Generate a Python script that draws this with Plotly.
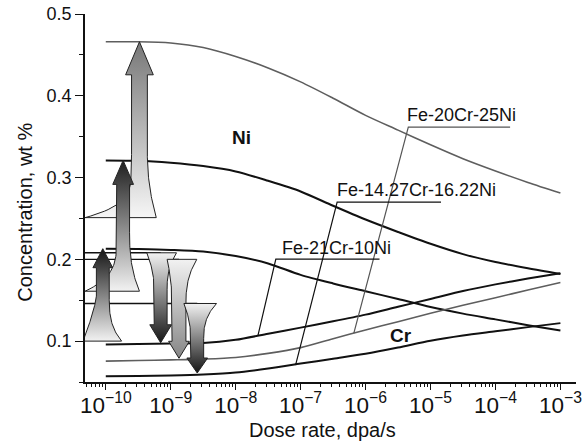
import numpy as np
import plotly.graph_objects as go

# ---------------- data ----------------
dose_rate = [1e-10, 3.16e-10, 1e-9, 3.16e-9, 1e-8, 3.16e-8, 1e-7, 3.16e-7,
             1e-6, 3.16e-6, 1e-5, 3.16e-5, 1e-4, 3.16e-4, 1e-3]

ni_fe20cr25ni = [0.466, 0.466, 0.4645, 0.459, 0.448, 0.434, 0.417, 0.397,
                 0.376, 0.358, 0.340, 0.323, 0.308, 0.294, 0.281]
ni_fe14cr16ni = [0.321, 0.3205, 0.318, 0.314, 0.3075, 0.296, 0.283, 0.2655,
                 0.2487, 0.2335, 0.219, 0.2064, 0.1967, 0.189, 0.182]
ni_fe21cr10ni = [0.213, 0.2125, 0.2115, 0.2095, 0.204, 0.195, 0.181, 0.1705,
                 0.161, 0.1515, 0.1417, 0.1336, 0.1266, 0.1195, 0.113]
cr_fe21cr10ni = [0.096, 0.0965, 0.097, 0.0976, 0.1016, 0.109, 0.1165, 0.1242,
                 0.1324, 0.142, 0.1515, 0.1613, 0.1694, 0.1765, 0.183]
cr_fe20cr25ni = [0.0755, 0.0762, 0.077, 0.078, 0.080, 0.085, 0.092, 0.103,
                 0.1135, 0.1238, 0.134, 0.1438, 0.1531, 0.1624, 0.1716]
cr_fe14cr16ni = [0.057, 0.0573, 0.058, 0.0592, 0.0615, 0.0665, 0.0725, 0.0785,
                 0.0845, 0.0921, 0.1005, 0.1069, 0.112, 0.1171, 0.122]

# segregation arrows (Ni enrichment up, Cr depletion down)
ni_arrow_dose = [9.0e-11, 1.85e-10, 3.3e-10]
ni_initial = [0.100, 0.161, 0.251]
ni_peak = [0.213, 0.321, 0.466]
cr_arrow_dose = [7.0e-10, 1.34e-9, 2.56e-9]
cr_initial = [0.208, 0.200, 0.146]
cr_final = [0.098, 0.079, 0.061]

# alloy labels and their leader lines
label_text = ["Fe-20Cr-25Ni", "Fe-14.27Cr-16.22Ni", "Fe-21Cr-10Ni"]
leader_dose = [[6.6e-7, 4.55e-6, 1.68e-4],
               [8.36e-8, 3.65e-7, 1.45e-5],
               [2.21e-8, 4.15e-8, 1.64e-6]]
leader_conc = [[0.1098, 0.3616, 0.3616],
               [0.0707, 0.2699, 0.2699],
               [0.1073, 0.2002, 0.2002]]

x_title = "Dose rate, dpa/s"
y_title = "Concentration, wt %"

# ---------------- styles / positions ----------------
X_RANGE_LOG = [-10.32, -2.76]
Y_RANGE = [0.05, 0.5]
PX_PER_DEC = 65.7
PX_PER_Y = 818.0
FONT = "Liberation Sans, Arial, sans-serif"

label_pos = [(4.0e-6, 0.3763), (3.35e-7, 0.2846), (4.85e-8, 0.2137)]
label_color = ["#111111", "#111111", "#111111"]
leader_color = ["#555555", "#111111", "#111111"]

up_style = [
    dict(shaft=6.5, head=10, head_len=19, bell_h=45, left=20, right=19,
         p_left=1.3, p_right=3, colors=("#f2f2f2", "#141414")),
    dict(shaft=6.5, head=10.5, head_len=24, bell_h=59, left=38.5, right=16.5,
         p_left=4, p_right=2.5, colors=("#f2f2f2", "#1e1e1e")),
    dict(shaft=8, head=14, head_len=33, bell_h=63, left=55, right=17,
         p_left=5, p_right=2, colors=("#f6f6f6", "#777777")),
]
down_style = [
    dict(shaft=6.5, head=11, head_len=18, bell_h=37, left=14, right=16,
         p_left=2, p_right=2.5, colors=("#f2f2f2", "#161616")),
    dict(shaft=7, head=10.5, head_len=17, bell_h=45, left=12, right=18,
         p_left=2, p_right=2.5, colors=("#f2f2f2", "#858585")),
    dict(shaft=6.5, head=10.5, head_len=15, bell_h=35, left=13.5, right=19.5,
         p_left=2, p_right=2.5, colors=("#f2f2f2", "#141414")),
]


def arrow_polygon(x_center, y_from, y_to, st):
    lc = np.log10(x_center)
    sgn = 1.0 if y_to > y_from else -1.0
    L = abs(y_to - y_from) * PX_PER_Y
    s_bell = np.linspace(0, st["bell_h"], 40)
    t = s_bell / st["bell_h"]
    rw = st["shaft"] + (st["right"] - st["shaft"]) * (1 - t) ** st["p_right"]
    lw = st["shaft"] + (st["left"] - st["shaft"]) * (1 - t) ** st["p_left"]
    pts = [(w, s) for s, w in zip(s_bell, rw)]
    hb = L - st["head_len"]
    pts += [(st["shaft"], hb), (st["head"], hb), (0, L),
            (-st["head"], hb), (-st["shaft"], hb)]
    pts += [(-w, s) for s, w in zip(s_bell[::-1], lw[::-1])]
    pts.append(pts[0])
    xs = [10 ** (lc + dx / PX_PER_DEC) for dx, _ in pts]
    ys = [y_from + sgn * s / PX_PER_Y for _, s in pts]
    return xs, ys


fig = go.Figure()

# concentration curves
curves = [
    (ni_fe20cr25ni, "#5e5e5e", 1.6),
    (ni_fe14cr16ni, "#111111", 2.0),
    (ni_fe21cr10ni, "#111111", 2.0),
    (cr_fe21cr10ni, "#111111", 2.0),
    (cr_fe20cr25ni, "#5e5e5e", 1.6),
    (cr_fe14cr16ni, "#111111", 2.0),
]
for vals, col, w in curves:
    fig.add_trace(go.Scatter(x=dose_rate, y=vals, mode="lines",
                             line=dict(color=col, width=w, shape="spline", smoothing=0.8),
                             hoverinfo="skip"))

# initial Cr level lines from the axis to the arrows
for xd, yc in zip(cr_arrow_dose, cr_initial):
    fig.add_trace(go.Scatter(x=[10 ** X_RANGE_LOG[0], xd], y=[yc, yc], mode="lines",
                             line=dict(color="#111111", width=1.4), hoverinfo="skip"))

# leader lines
for xs, ys, col in zip(leader_dose, leader_conc, leader_color):
    fig.add_trace(go.Scatter(x=xs, y=ys, mode="lines",
                             line=dict(color=col, width=1.2), hoverinfo="skip"))

# arrows: up (drawn C, B, A), down (D, E, F)
for i in [2, 1, 0]:
    st = up_style[i]
    xs, ys = arrow_polygon(ni_arrow_dose[i], ni_initial[i], ni_peak[i], st)
    fig.add_trace(go.Scatter(x=xs, y=ys, mode="lines", fill="toself",
                             line=dict(color="#222222", width=1),
                             fillgradient=dict(type="vertical",
                                               colorscale=[[0, st["colors"][0]], [1, st["colors"][1]]]),
                             hoverinfo="skip"))
for i in [0, 1, 2]:
    st = down_style[i]
    xs, ys = arrow_polygon(cr_arrow_dose[i], cr_initial[i], cr_final[i], st)
    fig.add_trace(go.Scatter(x=xs, y=ys, mode="lines", fill="toself",
                             line=dict(color="#222222", width=1),
                             fillgradient=dict(type="vertical",
                                               colorscale=[[0, st["colors"][1]], [1, st["colors"][0]]]),
                             hoverinfo="skip"))

annotations = []
for txt, (xd, yc), col in zip(label_text, label_pos, label_color):
    annotations.append(dict(x=np.log10(xd), y=yc, xref="x", yref="y", text=txt,
                            showarrow=False, xanchor="left", yanchor="middle",
                            font=dict(family=FONT, size=18, color=col)))
annotations.append(dict(x=np.log10(1.25e-8), y=0.3494, xref="x", yref="y", text="<b>Ni</b>",
                        showarrow=False, font=dict(family=FONT, size=19, color="#111")))
annotations.append(dict(x=np.log10(3.45e-6), y=0.1073, xref="x", yref="y", text="<b>Cr</b>",
                        showarrow=False, font=dict(family=FONT, size=19, color="#111")))
annotations.append(dict(x=0.483, y=-0.13, xref="paper", yref="paper", text=x_title,
                        showarrow=False, xanchor="center", yanchor="middle",
                        font=dict(family=FONT, size=20, color="#111")))
annotations.append(dict(x=-0.1227, y=0.462, xref="paper", yref="paper", text=y_title,
                        showarrow=False, textangle=-90, xanchor="center", yanchor="middle",
                        font=dict(family=FONT, size=20, color="#111")))

fig.update_layout(
    width=586, height=442,
    margin=dict(l=85, r=4, t=14, b=60),
    paper_bgcolor="white", plot_bgcolor="white",
    showlegend=False,
    font=dict(family=FONT, size=18, color="#111"),
    annotations=annotations,
)
fig.update_xaxes(type="log", range=X_RANGE_LOG, dtick=1, exponentformat="power",
                 showexponent="all", ticks="outside", ticklen=6, tickwidth=1.2,
                 tickcolor="#111", showline=True, linecolor="#111", linewidth=1.5,
                 showgrid=False, zeroline=False, ticklabeloverflow="allow",
                 ticklabelstandoff=-3,
                 tickfont=dict(family=FONT, size=18, color="#111"),
                 minor=dict(ticks="outside", ticklen=3, tickcolor="#111", tickwidth=1, showgrid=False))
fig.update_yaxes(range=Y_RANGE, tick0=0.1, dtick=0.1, ticks="outside", ticklen=8,
                 tickwidth=1.2, tickcolor="#111", showline=True, linecolor="#111",
                 linewidth=1.5, showgrid=False, zeroline=False, ticklabeloverflow="allow",
                 tickfont=dict(family=FONT, size=18, color="#111"),
                 minor=dict(dtick=0.05, tick0=0.05, ticks="outside", ticklen=4,
                            tickcolor="#111", tickwidth=1, showgrid=False))

# remove the page's default body margin so the figure sits at the window origin
fig.write_html("out.html", config={"displayModeBar": False},
               post_script="document.body.style.margin='0';document.body.style.overflow='hidden';")
